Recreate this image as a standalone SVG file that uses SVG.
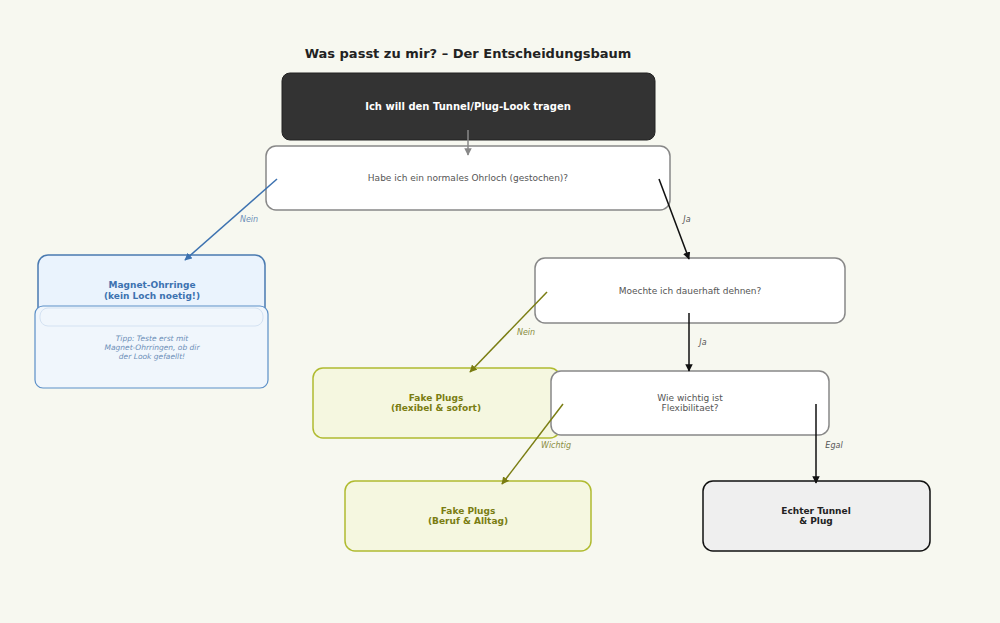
<svg xmlns="http://www.w3.org/2000/svg" width="1000" height="623" viewBox="0 0 1000 623">
<defs>
<marker id="ag" viewBox="0 0 10 10" refX="9" refY="5" markerWidth="5" markerHeight="5" orient="auto"><path d="M0,0L10,5L0,10z" fill="#888"/></marker>
<marker id="ab" viewBox="0 0 10 10" refX="9" refY="5" markerWidth="5" markerHeight="5" orient="auto"><path d="M0,0L10,5L0,10z" fill="#3d72b0"/></marker>
<marker id="ak" viewBox="0 0 10 10" refX="9" refY="5" markerWidth="5" markerHeight="5" orient="auto"><path d="M0,0L10,5L0,10z" fill="#111"/></marker>
<marker id="ao" viewBox="0 0 10 10" refX="9" refY="5" markerWidth="5" markerHeight="5" orient="auto"><path d="M0,0L10,5L0,10z" fill="#7a7d12"/></marker>
</defs>
<style>
text{font-family:"DejaVu Sans",sans-serif;text-anchor:middle}
.q rect{fill:#fff;stroke:#888;stroke-width:1.5}
.q text{font-size:9px;fill:#555}
.f rect{fill:#f5f7e0;stroke:#b0bb30;stroke-width:1.5}
.f text{font-size:9px;font-weight:bold;fill:#7a7d12}
.lbl{font-size:8px;font-style:italic}
line{stroke-width:1.5}
</style>
<rect width="1000" height="623" fill="#f7f8f0"/>
<text x="468" y="58" font-size="13" font-weight="bold" fill="#222">Was passt zu mir? – Der Entscheidungsbaum</text>
<g id="root"><rect x="282" y="73" width="373" height="67" rx="8" fill="#333" stroke="#222"/><text x="468" y="110" font-size="10" font-weight="bold" fill="#fff">Ich will den Tunnel/Plug-Look tragen</text></g>
<g id="q1" class="q"><rect x="266" y="146" width="404" height="64" rx="10"/><text x="468" y="181">Habe ich ein normales Ohrloch (gestochen)?</text></g>
<g id="magnet"><rect x="38" y="255" width="227" height="70" rx="10" fill="#eaf3fd" stroke="#4a7ab0" stroke-width="1.5"/><text x="152" y="288" font-size="9" font-weight="bold" fill="#3d72b0">Magnet-Ohrringe</text><text x="152" y="299" font-size="9" font-weight="bold" fill="#3d72b0">(kein Loch noetig!)</text></g>
<g id="tip"><rect x="35" y="306" width="233" height="82" rx="8" fill="#f0f6fc" stroke="#5b8fc7" stroke-width="1.2"/><rect x="40" y="308" width="223" height="18" rx="8" fill="none" stroke="#d4e2f2"/><text x="152" y="341" font-size="7.5" font-style="italic" fill="#6d8fb8">Tipp: Teste erst mit</text><text x="152" y="350" font-size="7.5" font-style="italic" fill="#6d8fb8">Magnet-Ohrringen, ob dir</text><text x="152" y="359" font-size="7.5" font-style="italic" fill="#6d8fb8">der Look gefaellt!</text></g>
<g id="q2" class="q"><rect x="535" y="258" width="310" height="65" rx="10"/><text x="690" y="294">Moechte ich dauerhaft dehnen?</text></g>
<g id="fake1" class="f"><rect x="313" y="368" width="247" height="70" rx="10"/><text x="436" y="401">Fake Plugs</text><text x="436" y="411">(flexibel &amp; sofort)</text></g>
<g id="q3" class="q"><rect x="551" y="371" width="278" height="64" rx="10"/><text x="690" y="401">Wie wichtig ist</text><text x="690" y="411">Flexibilitaet?</text></g>
<g id="fake2" class="f"><rect x="345" y="481" width="246" height="70" rx="10"/><text x="468" y="514">Fake Plugs</text><text x="468" y="524">(Beruf &amp; Alltag)</text></g>
<g id="echt"><rect x="703" y="481" width="227" height="70" rx="10" fill="#efefef" stroke="#111" stroke-width="1.5"/><text x="816" y="514" font-size="9" font-weight="bold" fill="#222">Echter Tunnel</text><text x="816" y="524" font-size="9" font-weight="bold" fill="#222">&amp; Plug</text></g>
<g id="connectors">
<line x1="468" y1="130" x2="468" y2="155" stroke="#888" marker-end="url(#ag)"/>
<line x1="277" y1="179" x2="185" y2="260" stroke="#3d72b0" marker-end="url(#ab)"/>
<text class="lbl" x="249" y="222" fill="#6d8fb8">Nein</text>
<line x1="659" y1="179" x2="689" y2="259" stroke="#111" marker-end="url(#ak)"/>
<text class="lbl" x="687" y="222" fill="#555">Ja</text>
<line x1="547" y1="292" x2="470" y2="372" stroke="#7a7d12" marker-end="url(#ao)"/>
<text class="lbl" x="526" y="335" fill="#8a8d40">Nein</text>
<line x1="689" y1="313" x2="689" y2="371" stroke="#111" marker-end="url(#ak)"/>
<text class="lbl" x="703" y="345" fill="#555">Ja</text>
<line x1="563" y1="404" x2="502" y2="484" stroke="#7a7d12" marker-end="url(#ao)"/>
<text class="lbl" x="556" y="448" fill="#8a8d40">Wichtig</text>
<line x1="816" y1="404" x2="816" y2="483" stroke="#111" marker-end="url(#ak)"/>
<text class="lbl" x="834" y="448" fill="#555">Egal</text>
</g>
</svg>
